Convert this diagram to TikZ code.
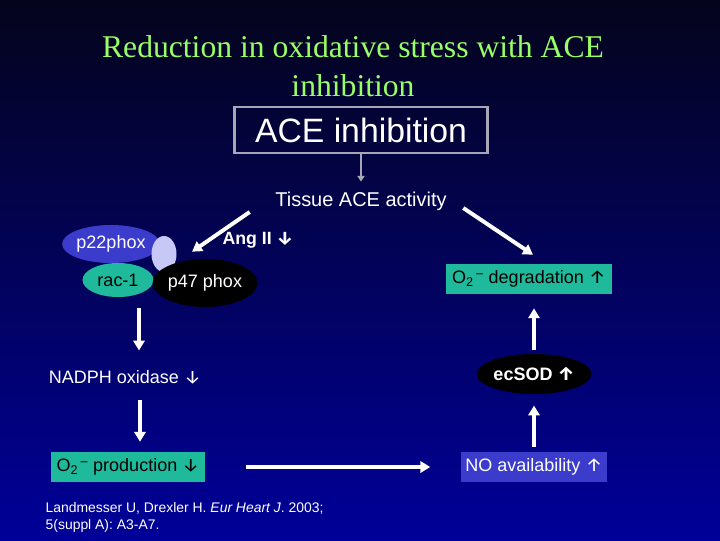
\documentclass[tikz,border=0pt]{standalone}
\usepackage{fontspec}
\setmainfont{Liberation Sans}
\newfontfamily\slidetitlefont{Liberation Serif}
\newfontfamily\arrowfont[Scale=1.05]{Fira Sans}
\newcommand{\dnarr}{{\arrowfont ↓}}
\newcommand{\uparr}{{\arrowfont ↑}}
\usepackage{tikz}
\usetikzlibrary{arrows.meta, positioning, calc, shapes.geometric}
\definecolor{slidetop}{HTML}{04041C}
\definecolor{slidemid}{HTML}{000078}
\definecolor{slidebot}{HTML}{000099}
\definecolor{titlegreen}{HTML}{99FF66}
\definecolor{boxgray}{HTML}{A6A6B6}
\definecolor{tealbox}{HTML}{1FBA9C}
\definecolor{phoxblue}{HTML}{3C3CCC}
\definecolor{lavender}{HTML}{C8C8F6}

\begin{document}
\begin{tikzpicture}[x=0.025cm, y=-0.025cm,
  lbl/.style={text=white, inner sep=1pt, font=\fontsize{12.8}{15}\selectfont},
  tealbx/.style={fill=tealbox, text=black, inner sep=0pt,
                 minimum height=0.75cm, font=\fontsize{12.8}{15}\selectfont},
  phox/.style={ellipse, inner sep=0pt, font=\fontsize{12.8}{15}\selectfont},
  arr/.style={-{Triangle[length=7pt, width=8pt]}, line width=2.8pt, white},
  grayarr/.style={-{Triangle[length=4pt, width=5pt]}, line width=1.8pt, boxgray}
]

% Slide background
\shade[top color=slidetop, middle color=slidemid, bottom color=slidebot]
  (0,0) rectangle (720,540);

% Title
\node[text=titlegreen, align=center, inner sep=0pt,
      font=\slidetitlefont\fontsize{22.5}{27.6}\selectfont] (title) at (353,66)
  {Reduction in oxidative stress with ACE\\inhibition};

% ACE inhibition box
\node[draw=boxgray, line width=2.1pt, text=white, minimum width=6.3cm,
      minimum height=1.15cm, font=\fontsize{24}{28}\selectfont] (ace) at (361,130)
  {ACE inhibition};
\node[lbl, font=\fontsize{14.2}{16}\selectfont] (tissue) at (361,201)
  {Tissue ACE activity};
\draw[grayarr, shorten >=6pt] (ace.south) -- (tissue.north);

% NADPH oxidase subunits
\node[lbl, font=\bfseries\fontsize{12.6}{15}\selectfont] (ang) at (258,240)
  {Ang II \dnarr};
\node[phox, fill=phoxblue, text=white, minimum width=2.3cm,
      minimum height=0.95cm] (p22) at (111,244) {p22phox};
\node[phox, fill=lavender, minimum width=0.625cm,
      minimum height=0.9cm] (lav) at (164,254) {};
\node[phox, fill=tealbox, text=black, minimum width=1.775cm,
      minimum height=0.85cm] (rac) at (118,280) {rac-1};
\node[phox, fill=black, text=white, minimum width=2.6cm,
      minimum height=1.2cm] (p47) at (205,283) {p47 phox};

% Left branch
\node[lbl] (nadph) at (125,377) {NADPH oxidase \dnarr};
\node[tealbx, minimum width=3.85cm] (prod) at (128,467)
  {O\textsubscript{2}\textsuperscript{\,–} production \dnarr};

% Right branch
\node[tealbx, minimum width=4.125cm] (deg) at (529,279)
  {O\textsubscript{2}\textsuperscript{\,–} degradation \uparr};
\node[phox, fill=black, text=white, minimum width=2.825cm, minimum height=1.0cm,
      font=\bfseries\fontsize{12.8}{15}\selectfont] (ecsod) at (534,374) {ecSOD \uparr};
\node[lbl, fill=phoxblue, inner sep=0pt, minimum width=3.625cm,
      minimum height=0.75cm] (no) at (534,467) {NO availability \uparr};

% Reference
\node[lbl, anchor=west, align=left, font=\fontsize{9.9}{12.2}\selectfont] (cite)
  at (44,517) {Landmesser U, Drexler H. \textit{Eur Heart J}. 2003;\\5(suppl A): A3-A7.};

% Arrows
\draw[arr] ($(tissue.south west)+(-24,0)$) -- ($(p47.north)+(-13,-7)$);
\draw[arr] ($(tissue.south east)+(15,-4)$) -- ($(deg.north)+(4,-9)$);
\draw[arr] ($(rac.south)+(21,11)$) -- ($(nadph.north)+(14,-18)$);
\draw[arr] ($(nadph.south)+(15,14)$) -- ($(prod.north)+(12,-10)$);
\draw[arr, shorten <=29pt, shorten >=22pt] (prod.east) -- (no.west);
\draw[arr, shorten <=3.5pt, shorten >=8pt] (no.north) -- (ecsod.south);
\draw[arr, shorten <=3pt, shorten >=10pt] (ecsod.north) -- (ecsod.north |- deg.south);

\end{tikzpicture}
\end{document}
